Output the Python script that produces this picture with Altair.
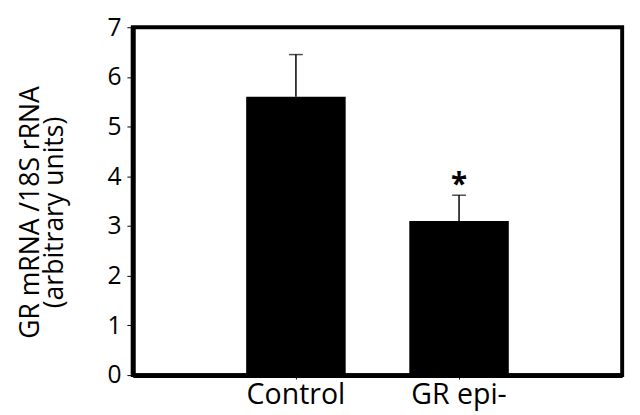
import altair as alt
import pandas as pd

categories = ["Control", "GR epi-"]
means = [5.6, 3.1]
upper = [6.45, 3.62]
marks = ["", "*"]

df = pd.DataFrame({"group": categories, "mean": means, "upper": upper, "mark": marks})

FONT = "Open Sans"

x = alt.X("group:N", sort=categories,
          scale=alt.Scale(paddingInner=0.39, paddingOuter=0.695),
          axis=alt.Axis(title=None, labelAngle=0, labelFontSize=29, labelFont=FONT,
                        labelColor="black", domainColor="black", domainWidth=5,
                        tickColor="black", tickSize=4, tickWidth=1, labelPadding=2))
y = alt.Y("mean:Q", scale=alt.Scale(domain=[0, 7], nice=False),
          axis=alt.Axis(title=["GR mRNA /18S rRNA", "(arbitrary units)"],
                        titleFontSize=27, titleFont=FONT, titleFontWeight="normal",
                        titleColor="black", titleLineHeight=24,
                        titleX=-90, titleY=188, titleAlign="center", titleAngle=-90,
                        titleBaseline="bottom",
                        values=list(range(8)), format="d", labelFontSize=25, labelFont=FONT,
                        labelColor="black", domainColor="black", domainWidth=5,
                        tickColor="black", tickSize=6, tickWidth=1, labelPadding=6,
                        grid=False))

bars = alt.Chart(df).mark_bar(color="black").encode(x=x, y=y)
err = alt.Chart(df).mark_rule(color="black", strokeWidth=1.5).encode(
    x=alt.X("group:N", sort=categories), y="mean:Q", y2="upper:Q")
cap = alt.Chart(df).mark_tick(color="black", thickness=1.5, size=14, orient="horizontal").encode(
    x=alt.X("group:N", sort=categories), y="upper:Q")
star = alt.Chart(df).transform_calculate(sy="datum.upper + 0.33").mark_text(
    fontSize=30, fontWeight="bold", font=FONT, baseline="middle", dy=6).encode(
    x=alt.X("group:N", sort=categories), y=alt.Y("sy:Q"), text="mark:N")

chart = alt.layer(bars, err, cap, star).properties(
    width=498, height=354,
    autosize=alt.AutoSizeParams(type="none"),
    padding={"left": 127, "top": 16, "right": 10, "bottom": 36},
).configure_view(stroke="black", strokeWidth=4)

chart.save("out.html", embed_options={"renderer": "svg", "actions": False})
